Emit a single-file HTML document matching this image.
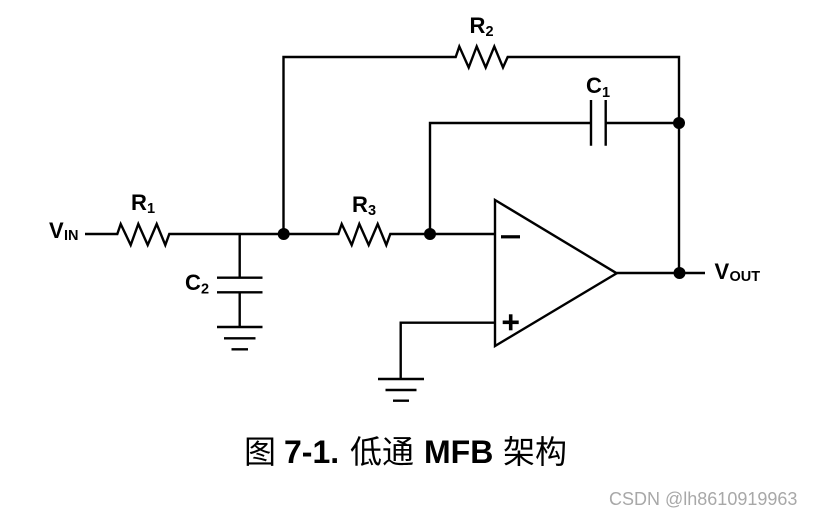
<!DOCTYPE html>
<html><head><meta charset="utf-8"><style>
html,body{margin:0;padding:0;background:#fff;width:813px;height:515px;overflow:hidden}
svg{display:block}
text{font-family:"Liberation Sans","Noto Sans CJK SC",sans-serif;fill:#000}
.l{font-weight:bold;font-size:22px}
.s{font-weight:bold;font-size:14.5px}
.c{font-size:32px}
.b{font-size:32px;font-weight:bold}
</style></head><body>
<svg width="813" height="515" viewBox="0 0 813 515" xmlns="http://www.w3.org/2000/svg">
<g fill="none" stroke="#000" stroke-width="2.4" stroke-linejoin="miter">
<path d="M85 234H117.3L120.7 224L130.7 245L138.3 224L147.7 245L156.7 224L165.3 245L169.3 234H338.3L341.7 224L351.7 245L359.3 224L368.7 245L377.7 224L386.3 245L390.3 234H495"/>
<path d="M283.5 234V57H455.7L459.3 46.5L468.7 67.5L476.7 46.5L485.7 67.5L494.3 46.5L503 67.5L507.7 57H679V273"/>
<path d="M430 234V123H591M605.7 123H679"/>
<path d="M591 100V145.7M605.7 100V145.7"/>
<path d="M239.7 234V277.7M217 277.7H262.5M217 292.3H262.5M239.7 292.3V327M217 327H262.5M224 338.3H255.5M231.5 349.3H248"/>
<path d="M495 200L616.7 273.3L495 346Z"/>
<path d="M616.7 273H705"/>
<path d="M495 322.7H400.7V379M378 379H424M385.5 390H416.5M393 400.7H409"/>
</g>
<g fill="#000">
<circle cx="283.7" cy="234" r="6"/>
<circle cx="430" cy="234" r="6"/>
<circle cx="679" cy="123" r="6"/>
<circle cx="679.5" cy="273" r="6"/>
<rect x="501" y="235.2" width="19" height="3.2"/>
<rect x="502.7" y="320.5" width="16" height="3.6"/>
<rect x="508.9" y="314.3" width="3.6" height="16"/>
</g>
<text class="l" x="49" y="238">V</text><text class="s" x="64" y="240">IN</text>
<text class="l" x="131" y="210">R</text><text class="s" x="147" y="213">1</text>
<text class="l" x="352" y="212">R</text><text class="s" x="368" y="215">3</text>
<text class="l" x="469.5" y="33">R</text><text class="s" x="485.5" y="36">2</text>
<text class="l" x="586" y="93">C</text><text class="s" x="602" y="97">1</text>
<text class="l" x="185" y="290">C</text><text class="s" x="201" y="293.5">2</text>
<text class="l" x="714.5" y="279">V</text><text class="s" x="729.5" y="281">OUT</text>
<text class="c" x="244" y="463">图</text>
<text class="b" x="284" y="463">7-1.</text>
<text class="c" x="350" y="463">低通</text>
<text class="b" x="424" y="463">MFB</text>
<text class="c" x="503" y="463">架构</text>
<text x="609" y="505" font-size="18" style="fill:#a8a8a8">CSDN @lh8610919963</text>
</svg>
</body></html>
